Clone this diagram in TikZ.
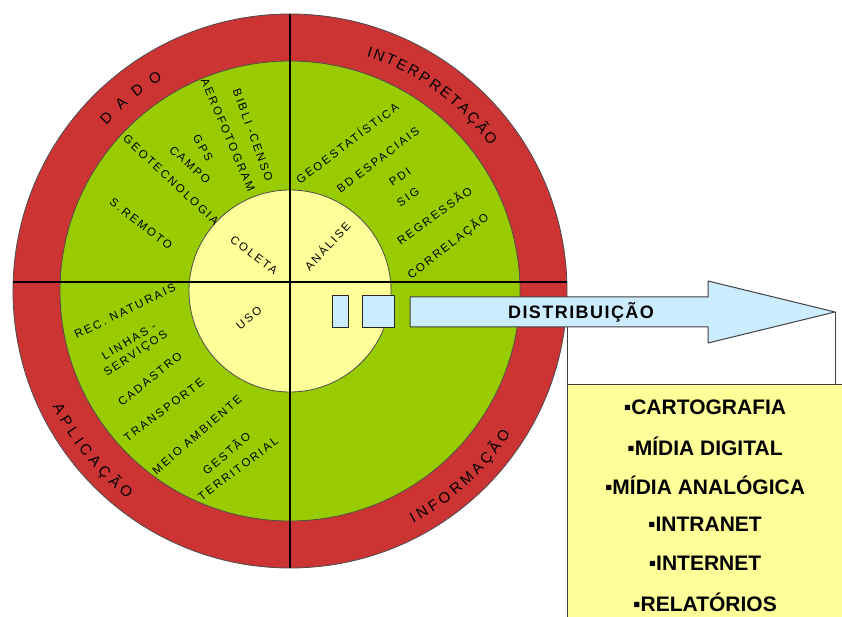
\documentclass[tikz,border=0pt]{standalone}
\usepackage{fontspec}
\setmainfont{Liberation Sans}
\newfontfamily\rotulofonte[LetterSpace=18]{Liberation Sans}
\newfontfamily\titulofonte[LetterSpace=8]{Liberation Sans}
\newcommand\anelfonte{\fontsize{15}{15}\selectfont}
\usetikzlibrary{decorations.text}
\definecolor{anel}{RGB}{204,51,51}
\definecolor{verde}{RGB}{153,204,0}
\definecolor{miolo}{RGB}{255,255,153}
\definecolor{azul}{RGB}{204,236,255}

\begin{document}
\begin{tikzpicture}[x=1pt,y=1pt,line join=round]
    \tikzstyle{roda}=[draw=black!70,line width=0.8pt]
    \tikzstyle{corte}=[draw=black,line width=1.2pt]
    \tikzstyle{rotulo}=[inner sep=0pt,font=\fontsize{11.5}{11.5}\rotulofonte]
    \tikzstyle{faixa}=[decorate,decoration={text along path,text align={fit to path}}]
    \tikzstyle{caixinha}=[draw=black!85,fill=azul,line width=1pt,inner sep=0pt,minimum width=16pt,minimum height=32pt]
    \tikzstyle{seta}=[draw=black!75,fill=azul,line width=1pt]
    \tikzstyle{lista}=[draw=black!75,fill=miolo,line width=1pt,minimum width=290pt,minimum height=245pt]
    \tikzstyle{item}=[inner sep=0pt,font=\fontsize{21}{21}\selectfont\bfseries]
    \tikzstyle{liga}=[draw=black!75,line width=1pt]

    \useasboundingbox (0,0) rectangle (842,616);
    \coordinate (C) at (290,325);

    % Draw the three rings
    \draw[roda,fill=anel] (C) circle[radius=277];
    \draw[roda,fill=verde] (C) circle[radius=230];
    \draw[roda,fill=miolo] (C) circle[radius=101];

    % Cut the wheel in four
    \draw[corte] (290,48) -- (290,602);
    \draw[corte] (13.2,334) -- (566.8,334);

    % Labels of the outer ring
    \path[faixa,decoration={text={|\anelfonte|DADO}}]
        (C) ++(138:247) arc[start angle=138,end angle=121,radius=247];
    \path[faixa,decoration={text={|\anelfonte|INTERPRETAÇÃO}}]
        (C) ++(72:247) arc[start angle=72,end angle=36,radius=247];
    \path[faixa,decoration={text={|\anelfonte|APLICAÇÃO}}]
        (C) ++(206:264) arc[start angle=206,end angle=232,radius=264];
    \path[faixa,decoration={text={|\anelfonte|INFORMAÇÃO}}]
        (C) ++(298:263) arc[start angle=298,end angle=327,radius=263];

    % Labels of the green ring and of the core
    \foreach \name/\x/\y/\a/\txt in {
        aero/228/481/-67/AEROFOTOGRAM,
        bibli/253/481/-70/BIBLI -CENSO,
        gps/203/468/-60/GPS,
        campo/190/451/-42/CAMPO,
        geotec/171/436/-43/GEOTECNOLOGIA,
        sremoto/141/392/-38/S.REMOTO,
        coleta/254/361/-37/COLETA,
        geoest/347/473/37/GEOESTATÍSTICA,
        bdesp/378/456/37/BD ESPACIAIS,
        pdi/400/439/35/PDI,
        sig/408/419/35/SIG,
        regr/434/401/36/REGRESSÃO,
        correl/448/370/38/CORRELAÇÃO,
        analise/327/370/47/ANÁLISE,
        recnat/125/305/26/REC. NATURAIS,
        linhas/129/275/31/LINHAS -,
        servicos/136/262/34/SERVIÇOS,
        cadastro/150/237/39/CADASTRO,
        transp/164/206/37/TRANSPORTE,
        meioamb/197/181/41/MEIO AMBIENTE,
        gestao/226/163/40/GESTÃO,
        territ/238/147/37/TERRITORIAL,
        uso/249/298/40/USO}
        \node[rotulo,rotate=\a] (\name) at (\x,\y) {\txt};

    % The distribution arrow
    \coordinate (ponta) at (835,304);
    \coordinate (pe) at (567,289);
    \draw[seta] (410,289) -- (708,289) -- (708,273) -- (ponta) -- (708,335)
        -- (708,319) -- (410,319) -- cycle;
    \node[font=\fontsize{18}{18}\titulofonte\bfseries] (dist) at (581,304) {DISTRIBUIÇÃO};
    \node[caixinha] (q1) at (340,304) {};
    \node[caixinha,minimum width=32pt] (q2) at (378,304) {};

    % The list of products
    \node[lista,anchor=north west] (lista) at (567,232) {};
    \foreach \i/\txt in {1/CARTOGRAFIA,2/MÍDIA DIGITAL,3/MÍDIA ANALÓGICA,
                         4/INTRANET,5/INTERNET,6/RELATÓRIOS}
        \node[item] (item-\i) at (705,{248-39*\i}) {▪\txt};

    % Tie the arrow to the list
    \draw[liga] (ponta) -- (ponta |- lista.north);
    \draw[liga] (pe) -- (lista.north west);
\end{tikzpicture}
\end{document}
